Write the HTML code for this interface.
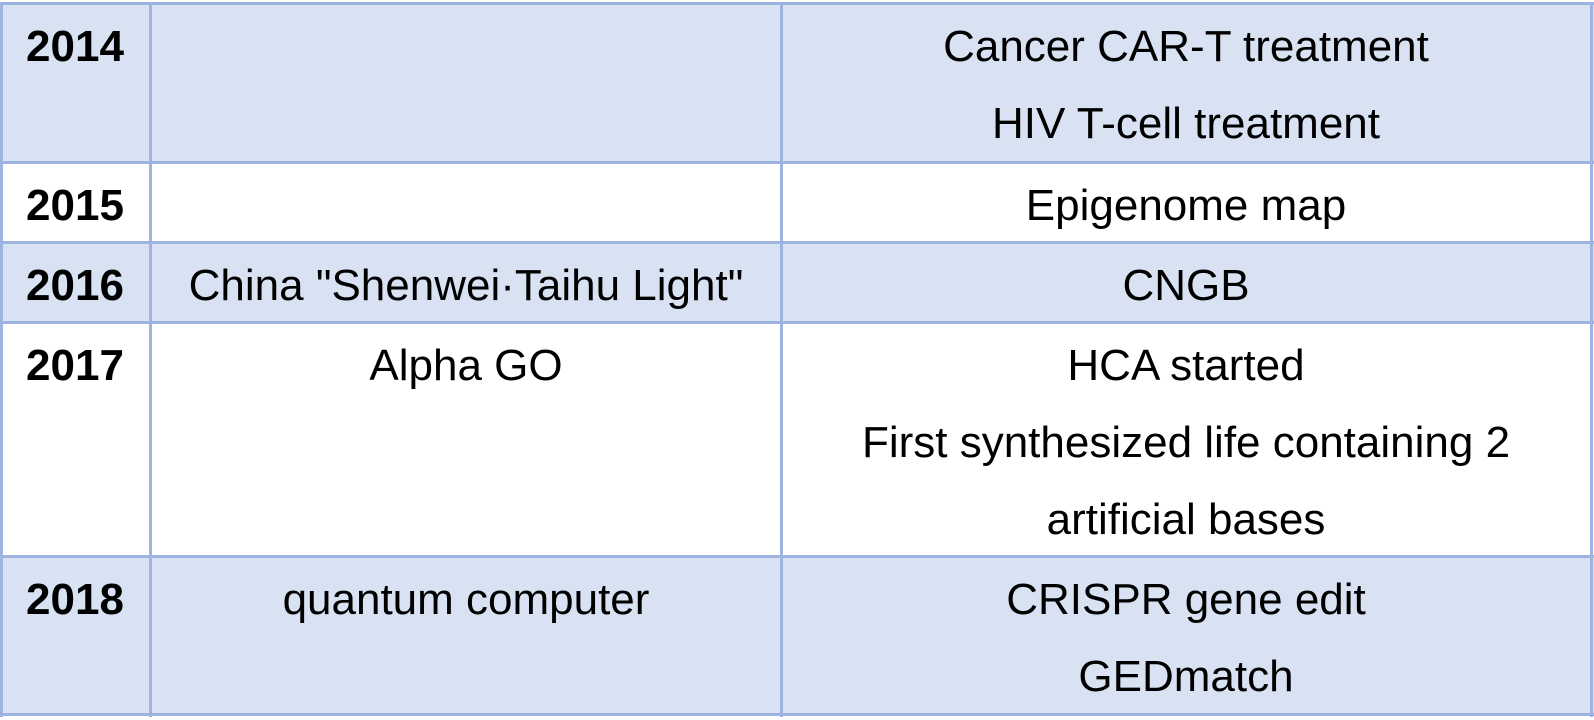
<!DOCTYPE html>
<html><head><meta charset="utf-8"><style>
html,body{margin:0;padding:0;background:#fff;width:1594px;height:720px;overflow:hidden}
.row{position:absolute;left:0;width:1594px;box-sizing:border-box}
.blue{background:#d9e2f3}
.hl{position:absolute;left:0;width:1594px;height:3px;background:#9db4e0}
.vl{position:absolute;top:2px;width:3px;height:715px;background:#9db4e0}
.cell{position:absolute;font-family:"Liberation Sans",Arial,sans-serif;font-size:44px;line-height:77px;text-align:center;color:#000;padding-top:3px}
.yr{font-weight:bold}
</style></head><body>
<div>
<div class="row blue" style="top:3px;height:159px"></div>
<div class="row" style="top:162px;height:81px"></div>
<div class="row blue" style="top:243px;height:79px"></div>
<div class="row" style="top:322px;height:235px"></div>
<div class="row blue" style="top:557px;height:159px"></div>

<div class="hl" style="top:2px"></div>
<div class="hl" style="top:161px"></div>
<div class="hl" style="top:241px"></div>
<div class="hl" style="top:321px"></div>
<div class="hl" style="top:555px"></div>
<div class="hl" style="top:713px"></div>
<div class="vl" style="left:0px"></div>
<div class="vl" style="left:149px"></div>
<div class="vl" style="left:780px"></div>
<div class="vl" style="left:1590px"></div>

<div class="cell yr" style="left:0;width:150px;top:5px">2014</div>
<div class="cell" style="left:782px;width:808px;top:5px">Cancer CAR-T treatment<br>HIV T-cell treatment</div>

<div class="cell yr" style="left:0;width:150px;top:164px">2015</div>
<div class="cell" style="left:782px;width:808px;top:164px">Epigenome map</div>

<div class="cell yr" style="left:0;width:150px;top:244px">2016</div>
<div class="cell" style="left:152px;width:628px;top:244px">China "Shenwei·Taihu Light"</div>
<div class="cell" style="left:782px;width:808px;top:244px">CNGB</div>

<div class="cell yr" style="left:0;width:150px;top:324px">2017</div>
<div class="cell" style="left:152px;width:628px;top:324px">Alpha GO</div>
<div class="cell" style="left:782px;width:808px;top:324px">HCA started<br>First synthesized life containing 2<br>artificial bases</div>

<div class="cell yr" style="left:0;width:150px;top:558px">2018</div>
<div class="cell" style="left:152px;width:628px;top:558px">quantum computer</div>
<div class="cell" style="left:782px;width:808px;top:558px">CRISPR gene edit<br>GEDmatch</div>
</div>
</body></html>
